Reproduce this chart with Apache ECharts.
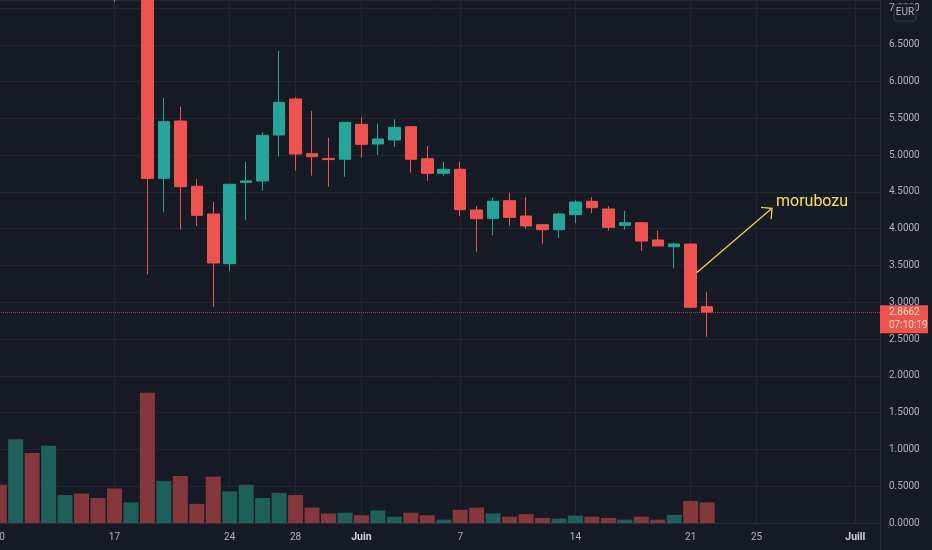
<!DOCTYPE html>
<html><head><meta charset="utf-8">
<script src="https://cdn.jsdelivr.net/npm/echarts@6/dist/echarts.min.js"></script>
<style>html,body{margin:0;padding:0;background:#161a25;}#c{width:932px;height:550px;}</style>
</head><body><div id="c"></div>
<script>
const dates = ['2021-05-10','2021-05-11','2021-05-12','2021-05-13','2021-05-14','2021-05-15','2021-05-16','2021-05-17','2021-05-18','2021-05-19','2021-05-20','2021-05-21','2021-05-22','2021-05-23','2021-05-24','2021-05-25','2021-05-26','2021-05-27','2021-05-28','2021-05-29','2021-05-30','2021-05-31',
'2021-06-01','2021-06-02','2021-06-03','2021-06-04','2021-06-05','2021-06-06','2021-06-07','2021-06-08','2021-06-09','2021-06-10','2021-06-11','2021-06-12','2021-06-13','2021-06-14','2021-06-15','2021-06-16','2021-06-17','2021-06-18','2021-06-19','2021-06-20','2021-06-21','2021-06-22','2021-06-23','2021-06-24','2021-06-25','2021-06-26','2021-06-27','2021-06-28','2021-06-29','2021-06-30','2021-07-01','2021-07-02'];

// [open, close, low, high]
const ohlc = [
 [11.8,10.9,10.5,12.3],[10.9,11.9,10.6,12.2],[11.9,10.2,9.9,12.1],[10.2,10.9,9.4,11.3],[10.9,11.4,10.6,11.8],
 [11.4,10.6,10.2,11.6],[10.6,9.9,9.3,10.9],[9.9,8.4,7.08,10.1],[8.4,8.6,7.9,9.1],[8.6,4.685,3.38,8.8],
 [4.685,5.455,4.223,5.777],[5.464,4.571,3.992,5.659],[4.577,4.182,4.037,4.676],[4.200,3.534,2.940,4.363],
 [3.525,4.604,3.429,4.61],[4.63,4.65,4.123,4.911],[4.649,5.270,4.517,5.311],[5.274,5.718,4.979,6.416],
 [5.763,5.016,4.789,5.786],[5.020,4.979,4.721,5.600],[4.955,4.940,4.571,5.237],[4.944,5.446,4.707,5.45],
 [5.419,5.147,4.966,5.514],[5.152,5.220,5.006,5.428],[5.206,5.378,5.115,5.487],[5.387,4.944,4.762,5.39],
 [4.952,4.753,4.649,5.124],[4.753,4.808,4.721,4.907],[4.808,4.259,4.173,4.911],[4.255,4.136,3.688,4.309],
 [4.141,4.373,3.911,4.422],[4.381,4.155,4.041,4.490],[4.173,4.037,4.001,4.431],[4.055,3.987,3.797,4.06],
 [3.987,4.200,3.874,4.218],[4.191,4.363,4.074,4.386],[4.373,4.286,4.210,4.431],[4.268,4.019,3.973,4.309],
 [4.046,4.082,3.987,4.245],[4.082,3.833,3.697,4.09],[3.847,3.765,3.765,3.973],[3.756,3.792,3.462,3.81],
 [3.792,2.932,2.932,3.806],[2.940,2.8662,2.532,3.144]
];

const volumes = [0.52,1.14,0.95,1.05,0.38,0.40,0.34,0.47,0.28,1.77,0.57,0.64,0.26,0.63,0.43,0.52,0.34,0.41,0.38,0.21,0.13,0.14,
 0.105,0.17,0.085,0.14,0.105,0.045,0.18,0.21,0.13,0.085,0.12,0.07,0.06,0.10,0.085,0.07,0.045,0.085,0.045,0.11,0.30,0.28];

const xTickDates = ['2021-05-10','2021-05-17','2021-05-24','2021-05-28','2021-06-01','2021-06-07','2021-06-14','2021-06-21','2021-06-25','2021-07-01'];
const xTickLabels = ['10','17','24','28','Juin','7','14','21','25','Juill'];
const monthLabels = ['Juin','Juill'];

const lastPrice = 2.8662;
const countdown = '07:10:19';
const note = {text:'morubozu', from:['2021-06-21',3.40], to:['2021-06-26',4.278]};

const UP='#26a69a', DOWN='#ef5350', VUP='#1f605c', VDOWN='#85383c';
const BG='#161a25', GRID='#232632', TXT='#b2b5be';
const FONT="Roboto, sans-serif";

const volData = volumes.map((v,i)=>({value:v,itemStyle:{color: ohlc[i][1]>=ohlc[i][0]?VUP:VDOWN}}));
const showTick = (idx,val)=>xTickDates.indexOf(val)>=0;

const chart = echarts.init(document.getElementById('c'));
chart.setOption({
  backgroundColor: BG,
  animation:false,
  textStyle:{fontFamily:FONT},
  grid:{left:-9,right:52,top:0,bottom:27,containLabel:false,outerBoundsMode:'none'},
  xAxis:{
    type:'category', data:dates, boundaryGap:true,
    axisLine:{show:true,lineStyle:{color:'#2a2e39'}},
    axisTick:{show:false},
    axisLabel:{
      interval:showTick, color:TXT, fontSize:10, margin:9, fontFamily:FONT,
      formatter:(val)=>{const l=xTickLabels[xTickDates.indexOf(val)]; return monthLabels.indexOf(l)>=0?'{m|'+l+'}':l;},
      rich:{m:{color:'#d1d4dc',fontSize:10.5,fontWeight:'bold',fontFamily:FONT}}
    },
    splitLine:{show:true,interval:showTick,alignWithLabel:true,lineStyle:{color:GRID,width:1}}
  },
  yAxis:{
    type:'value', position:'right', min:0, max:7.109, interval:0.5,
    axisLine:{show:true,lineStyle:{color:'#2a2e39'}},
    axisTick:{show:false},
    axisLabel:{color:TXT,fontSize:10,margin:9,showMaxLabel:false,fontFamily:FONT,formatter:v=>v.toFixed(4)},
    splitLine:{show:true,lineStyle:{color:GRID,width:1}}
  },
  series:[
    {type:'bar', data:volData, barWidth:15, z:1, silent:true},
    {type:'candlestick', data:ohlc, barWidth:12, z:3, clip:true,
     itemStyle:{color:UP,color0:DOWN,borderColor:UP,borderColor0:DOWN,borderWidth:1},
     markLine:{silent:true,symbol:['none','none'],label:{show:false},
       lineStyle:{color:'#a8414a',type:'dotted',width:1},
       data:[{yAxis:lastPrice}]}
    }
  ]
});

const a = chart.convertToPixel({xAxisIndex:0,yAxisIndex:0}, note.from);
const b = chart.convertToPixel({xAxisIndex:0,yAxisIndex:0}, note.to);
const x0 = a[0]+6, y0 = a[1], x1 = b[0]-1, y1 = b[1];
const ang = Math.atan2(y0-y1, x0-x1), L=11, sp=Math.PI/4;
const h1=[x1+L*Math.cos(ang+sp), y1+L*Math.sin(ang+sp)], h2=[x1+L*Math.cos(ang-sp), y1+L*Math.sin(ang-sp)];
const py = chart.convertToPixel({yAxisIndex:0}, lastPrice);
const yAxisX = 880;

chart.setOption({graphic:[
  {type:'line',shape:{x1:x0,y1:y0,x2:x1,y2:y1},style:{stroke:'#f3cf4d',lineWidth:1.3},z:10},
  {type:'polyline',shape:{points:[h1,[x1,y1],h2]},style:{stroke:'#f3cf4d',lineWidth:1.3,fill:null},z:10},
  {type:'text',x:x1+4,y:y1-6,style:{text:note.text,fill:'#fbe14b',font:'16px Roboto, sans-serif',textVerticalAlign:'middle'},z:10},
  {type:'rect',shape:{x:yAxisX+1,y:527,width:51,height:23},style:{fill:BG},z:20},
  {type:'line',shape:{x1:yAxisX+0.5,y1:520,x2:yAxisX+0.5,y2:550},style:{stroke:'#2a2e39',lineWidth:1},z:21},
  {type:'rect',shape:{x:yAxisX,y:py-7,width:48,height:28},style:{fill:'#ef5350'},z:20},
  {type:'text',x:yAxisX+9,y:py,style:{text:lastPrice.toFixed(4),fill:'#f7dcc0',font:"10px "+FONT,textVerticalAlign:'middle'},z:21},
  {type:'text',x:yAxisX+9,y:py+13,style:{text:countdown,fill:'#f7dcc0',font:"10px "+FONT,textVerticalAlign:'middle'},z:21},
  {type:'rect',shape:{x:894,y:4,width:22,height:17,r:3},style:{fill:BG,stroke:'#363a45',lineWidth:1},z:20},
  {type:'text',x:905,y:12.5,style:{text:'EUR',fill:TXT,font:"10px "+FONT,textAlign:'center',textVerticalAlign:'middle'},z:21}
]});
</script>
</body></html>
